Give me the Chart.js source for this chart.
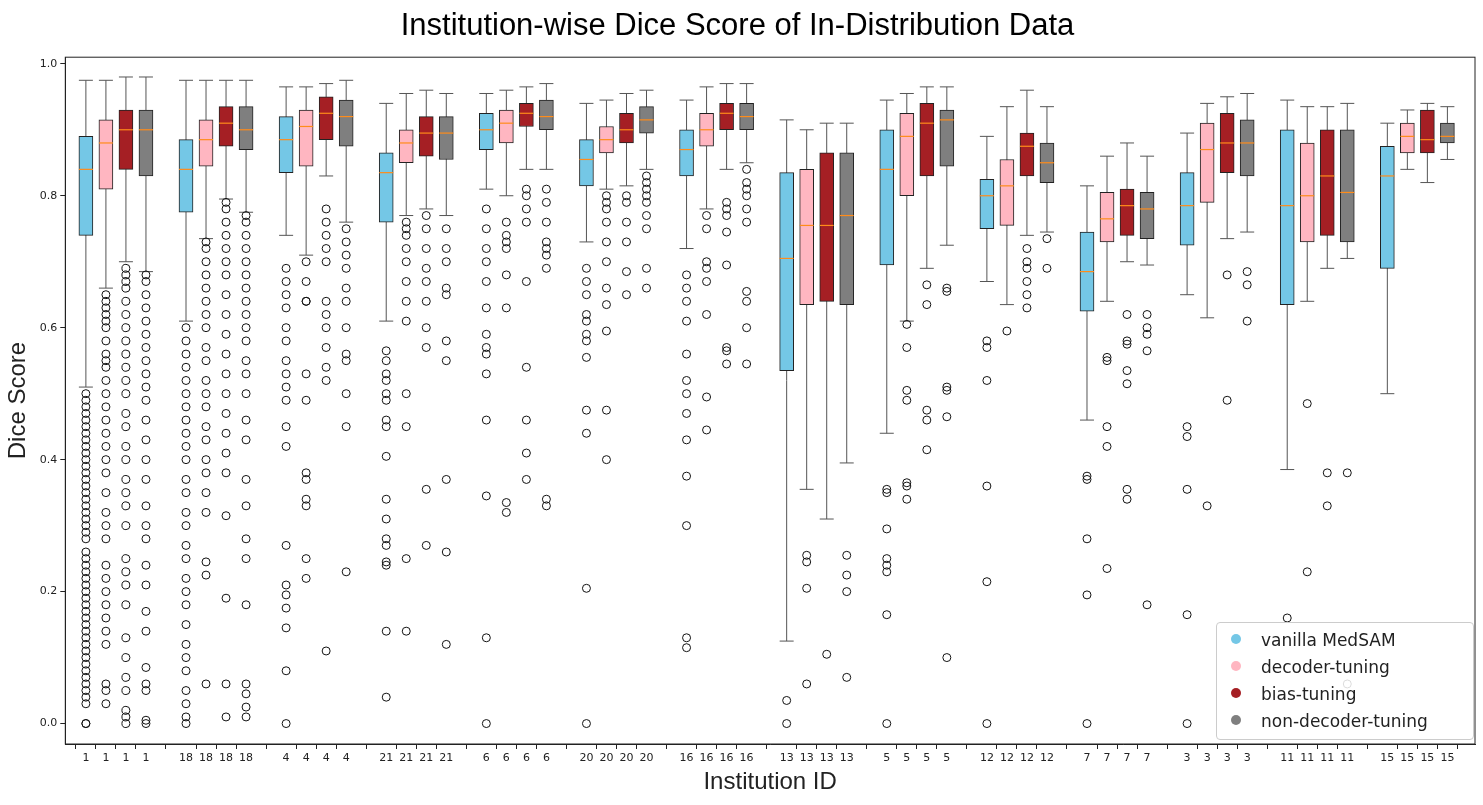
<!DOCTYPE html>
<html>
<head>
<meta charset="utf-8">
<script src="https://cdn.jsdelivr.net/npm/chart.js@4/dist/chart.umd.min.js"></script>
<style>
  body{margin:0;background:#fff;}
  #wrap{position:relative;width:1483px;height:805px;}
  #legend{position:absolute;left:1216px;top:622px;width:258px;height:118px;border:1px solid #ccc;border-radius:4px;background:rgba(255,255,255,0.85);
    font-family:"DejaVu Sans",sans-serif;font-size:17px;color:#222;padding:4px 0 0 0;box-sizing:border-box;}
  #legend div{height:27px;line-height:27px;padding-left:14px;}
  #legend span{display:inline-block;width:10px;height:10px;border-radius:50%;margin-right:20px;vertical-align:middle;position:relative;top:-2px;}
</style>
</head>
<body>
<div id="wrap">
<canvas id="chart" width="1483" height="805"></canvas>
<div id="legend"></div>
</div>
<script>
// DATA
const institutions = ["1","18","4","21","6","20","16","13","5","12","7","3","11","15"];
const methods = ["vanilla MedSAM","decoder-tuning","bias-tuning","non-decoder-tuning"];
const colors = ["#74c7e6","#ffb6c1","#a51f24","#7f7f7f"];

// [whisker low, q1, median, q3, whisker high]
const vanillaStats = [
  [0.51,0.74,0.84,0.89,0.975],[0.61,0.775,0.84,0.885,0.975],[0.74,0.835,0.885,0.92,0.965],
  [0.61,0.76,0.835,0.865,0.94],[0.81,0.87,0.9,0.925,0.955],[0.73,0.815,0.855,0.885,0.94],
  [0.72,0.83,0.87,0.9,0.945],[0.125,0.535,0.705,0.835,0.915],[0.44,0.695,0.84,0.9,0.945],
  [0.67,0.75,0.8,0.825,0.89],[0.46,0.625,0.685,0.745,0.815],[0.65,0.725,0.785,0.835,0.895],
  [0.385,0.635,0.785,0.9,0.945],[0.5,0.69,0.83,0.875,0.91]];
const decoderStats = [
  [0.66,0.81,0.88,0.915,0.975],[0.735,0.845,0.885,0.915,0.975],[0.71,0.845,0.905,0.93,0.965],
  [0.77,0.85,0.88,0.9,0.955],[0.8,0.88,0.91,0.93,0.96],[0.81,0.865,0.885,0.905,0.945],
  [0.78,0.875,0.9,0.925,0.965],[0.355,0.635,0.755,0.84,0.9],[0.61,0.8,0.89,0.925,0.955],
  [0.635,0.755,0.815,0.855,0.935],[0.64,0.73,0.765,0.805,0.86],[0.615,0.79,0.87,0.91,0.94],
  [0.64,0.73,0.8,0.88,0.935],[0.84,0.865,0.89,0.91,0.93]];
const biasStats = [
  [0.7,0.84,0.9,0.93,0.98],[0.795,0.875,0.91,0.935,0.975],[0.83,0.885,0.925,0.95,0.97],
  [0.78,0.86,0.895,0.92,0.96],[0.84,0.905,0.925,0.94,0.965],[0.815,0.88,0.9,0.925,0.955],
  [0.84,0.9,0.925,0.94,0.97],[0.31,0.64,0.755,0.865,0.91],[0.69,0.83,0.91,0.94,0.965],
  [0.74,0.83,0.875,0.895,0.96],[0.7,0.74,0.785,0.81,0.88],[0.735,0.835,0.88,0.925,0.95],
  [0.69,0.74,0.83,0.9,0.935],[0.82,0.865,0.885,0.93,0.94]];
const nonDecoderStats = [
  [0.685,0.83,0.9,0.93,0.98],[0.775,0.87,0.9,0.935,0.975],[0.76,0.875,0.92,0.945,0.975],
  [0.77,0.855,0.895,0.92,0.955],[0.84,0.9,0.92,0.945,0.97],[0.84,0.895,0.915,0.935,0.96],
  [0.85,0.9,0.92,0.94,0.97],[0.395,0.635,0.77,0.865,0.91],[0.725,0.845,0.915,0.93,0.965],
  [0.745,0.82,0.85,0.88,0.935],[0.695,0.735,0.78,0.805,0.86],[0.745,0.83,0.88,0.915,0.955],
  [0.705,0.73,0.805,0.9,0.94],[0.855,0.88,0.89,0.91,0.935]];

const vanillaOut = [
  [0,0,0.03,0.04,0.05,0.06,0.07,0.08,0.09,0.1,0.11,0.12,0.13,0.14,0.15,0.16,0.17,0.18,0.19,0.2,0.21,0.22,0.23,0.24,0.25,0.26,0.28,0.29,0.3,0.31,0.32,0.33,0.34,0.35,0.36,0.37,0.38,0.39,0.4,0.41,0.42,0.43,0.44,0.45,0.46,0.47,0.48,0.49,0.5],
  [0,0.01,0.03,0.05,0.08,0.1,0.12,0.15,0.18,0.2,0.22,0.25,0.27,0.3,0.32,0.35,0.37,0.4,0.42,0.44,0.46,0.48,0.5,0.52,0.54,0.56,0.58,0.6],
  [0,0.08,0.145,0.175,0.195,0.21,0.27,0.42,0.45,0.49,0.51,0.53,0.55,0.58,0.6,0.63,0.65,0.67,0.69],
  [0.04,0.14,0.24,0.245,0.27,0.28,0.31,0.34,0.405,0.45,0.46,0.49,0.5,0.52,0.53,0.55,0.565],
  [0,0.13,0.345,0.46,0.53,0.56,0.57,0.59,0.63,0.67,0.7,0.72,0.75,0.78],
  [0,0.205,0.44,0.475,0.555,0.58,0.59,0.61,0.62,0.65,0.67,0.69],
  [0.115,0.13,0.3,0.375,0.43,0.47,0.5,0.52,0.56,0.61,0.64,0.66,0.68],
  [0,0.035],
  [0,0.165,0.23,0.24,0.25,0.295,0.35,0.355],
  [0,0.215,0.36,0.52,0.57,0.58],
  [0,0.195,0.28,0.37,0.375],
  [0,0.165,0.355,0.435,0.45],
  [0.16],
  []];
const decoderOut = [
  [0.03,0.05,0.06,0.12,0.14,0.16,0.18,0.2,0.22,0.24,0.28,0.3,0.32,0.35,0.38,0.4,0.42,0.44,0.46,0.48,0.5,0.52,0.54,0.55,0.56,0.58,0.6,0.61,0.62,0.63,0.64,0.65],
  [0.06,0.225,0.245,0.32,0.35,0.38,0.4,0.43,0.45,0.48,0.5,0.52,0.55,0.57,0.6,0.62,0.64,0.66,0.68,0.7,0.72,0.73],
  [0.22,0.25,0.33,0.34,0.37,0.38,0.49,0.53,0.64,0.64,0.67,0.7],
  [0.14,0.25,0.45,0.5,0.61,0.64,0.67,0.7,0.72,0.74,0.75,0.76],
  [0.32,0.335,0.63,0.68,0.72,0.73,0.74,0.76],
  [0.4,0.475,0.595,0.635,0.66,0.7,0.73,0.76,0.78,0.79,0.8],
  [0.445,0.495,0.62,0.67,0.69,0.7,0.75,0.77],
  [0.06,0.205,0.245,0.255],
  [0.34,0.36,0.365,0.49,0.505,0.57,0.605],
  [0.595],
  [0.235,0.42,0.45,0.55,0.555],
  [0.33],
  [0.23,0.485],
  []];
const biasOut = [
  [0,0.01,0.02,0.05,0.07,0.1,0.13,0.18,0.21,0.23,0.25,0.3,0.33,0.35,0.37,0.4,0.42,0.45,0.47,0.5,0.52,0.54,0.56,0.58,0.6,0.62,0.64,0.66,0.67,0.68,0.69],
  [0.01,0.06,0.19,0.315,0.38,0.41,0.44,0.47,0.5,0.53,0.56,0.59,0.62,0.65,0.68,0.7,0.72,0.74,0.76,0.78,0.79],
  [0.11,0.52,0.54,0.57,0.6,0.62,0.64,0.7,0.72,0.74,0.76,0.78],
  [0.27,0.355,0.57,0.6,0.64,0.67,0.69,0.72,0.75,0.77],
  [0.37,0.41,0.46,0.54,0.67,0.76,0.78,0.8,0.81],
  [0.65,0.685,0.73,0.76,0.79,0.8],
  [0.545,0.565,0.57,0.695,0.745,0.77,0.78,0.79],
  [0.105],
  [0.415,0.46,0.475,0.635,0.665],
  [0.63,0.65,0.67,0.69,0.7,0.72],
  [0.34,0.355,0.515,0.535,0.575,0.58,0.62],
  [0.49,0.68],
  [0.33,0.38],
  []];
const nonDecoderOut = [
  [0,0.005,0.05,0.06,0.085,0.14,0.17,0.21,0.24,0.28,0.3,0.33,0.37,0.4,0.43,0.46,0.49,0.51,0.53,0.55,0.57,0.59,0.61,0.63,0.65,0.67,0.68],
  [0.01,0.025,0.045,0.06,0.18,0.25,0.28,0.33,0.37,0.43,0.46,0.5,0.53,0.55,0.58,0.6,0.62,0.64,0.66,0.68,0.7,0.72,0.74,0.76,0.77],
  [0.23,0.45,0.5,0.55,0.56,0.6,0.64,0.66,0.69,0.71,0.73,0.75],
  [0.12,0.26,0.37,0.55,0.58,0.65,0.66,0.7,0.72,0.75],
  [0.33,0.34,0.69,0.71,0.72,0.73,0.76,0.79,0.81],
  [0.66,0.69,0.75,0.77,0.79,0.8,0.81,0.82,0.83],
  [0.545,0.6,0.64,0.655,0.76,0.78,0.8,0.81,0.82,0.84],
  [0.07,0.2,0.225,0.255],
  [0.1,0.465,0.505,0.51,0.655,0.66],
  [0.69,0.735],
  [0.18,0.565,0.59,0.6,0.62],
  [0.61,0.665,0.685],
  [0.06,0.38],
  []];

const yTicks = [0,0.2,0.4,0.6,0.8,1.0];

// BUILD
const allStats = [vanillaStats,decoderStats,biasStats,nonDecoderStats];
const allOut = [vanillaOut,decoderOut,biasOut,nonDecoderOut];
const pos = (g,j) => g*5 + j + 1;

const datasets = [];
methods.forEach((m,j)=>{
  datasets.push({
    type:'bar', label:m,
    data: allStats[j].map((s,g)=>({x:pos(g,j), y:[s[1],s[3]]})),
    backgroundColor: colors[j], borderColor:'#222', borderWidth:1, borderSkipped:false,
    barThickness:14, grouped:false, order:1
  });
});
const outPts = [];
allOut.forEach((arr,j)=>arr.forEach((vals,g)=>vals.forEach(v=>outPts.push({x:pos(g,j),y:v}))));
datasets.push({
  type:'scatter', label:'outliers', data: outPts,
  pointRadius:4, pointBorderColor:'#111', pointBackgroundColor:'rgba(0,0,0,0)', pointBorderWidth:1, order:0
});

const boxPlugin = {
  id:'boxParts',
  beforeDatasetsDraw(chart){
    const {ctx, scales:{x,y}} = chart;
    ctx.save(); ctx.strokeStyle='#555'; ctx.lineWidth=1;
    allStats.forEach((st,j)=>st.forEach((s,g)=>{
      const px = x.getPixelForValue(pos(g,j));
      ctx.beginPath();
      ctx.moveTo(px,y.getPixelForValue(s[0])); ctx.lineTo(px,y.getPixelForValue(s[4]));
      [s[0],s[4]].forEach(v=>{ctx.moveTo(px-7,y.getPixelForValue(v)); ctx.lineTo(px+7,y.getPixelForValue(v));});
      ctx.stroke();
    }));
    ctx.restore();
  },
  afterDatasetsDraw(chart){
    const {ctx, chartArea:a, scales:{x,y}} = chart;
    ctx.save(); ctx.strokeStyle='#ff8c1a'; ctx.lineWidth=1.2;
    allStats.forEach((st,j)=>st.forEach((s,g)=>{
      const px = x.getPixelForValue(pos(g,j)), py = y.getPixelForValue(s[2]);
      ctx.beginPath(); ctx.moveTo(px-7,py); ctx.lineTo(px+7,py); ctx.stroke();
    }));
    ctx.strokeStyle='#222'; ctx.lineWidth=1;
    ctx.strokeRect(a.left,a.top,a.right-a.left,a.bottom-a.top);
    ctx.restore();
  }
};

new Chart(document.getElementById('chart'), {
  data:{datasets},
  options:{
    responsive:false, animation:false,
    layout:{padding:{left:0,right:8,top:0,bottom:4}},
    plugins:{
      legend:{display:false}, tooltip:{enabled:false},
      title:{display:true,text:'Institution-wise Dice Score of In-Distribution Data',
        font:{family:'Liberation Sans, Arial',size:31,weight:'normal'}, color:'#000', padding:{top:8,bottom:12}}
    },
    scales:{
      x:{type:'linear', min:0.6, max:69.75,
        afterBuildTicks(ax){ const t=[]; institutions.forEach((id,g)=>{for(let j=0;j<4;j++) t.push({value:pos(g,j)});}); ax.ticks=t; },
        ticks:{autoSkip:false, maxRotation:0, color:'#222', font:{family:'DejaVu Sans',size:11},
          callback:(v)=>institutions[Math.floor((v-1)/5)]},
        grid:{drawOnChartArea:false, tickLength:5, color:'#222'},
        border:{color:'#222'},
        title:{display:true,text:'Institution ID',font:{family:'Liberation Sans, Arial',size:24},color:'#222',padding:{top:0}}
      },
      y:{min:-0.031, max:1.01,
        afterBuildTicks(ax){ ax.ticks = yTicks.map(v=>({value:v})); },
        ticks:{color:'#222', font:{family:'DejaVu Sans',size:11}, callback:v=>v.toFixed(1)},
        grid:{drawOnChartArea:false, tickLength:5, color:'#222'},
        border:{color:'#222'},
        title:{display:true,text:'Dice Score',font:{family:'Liberation Sans, Arial',size:24},color:'#222'}
      }
    }
  },
  plugins:[boxPlugin]
});

// LEGEND
const lg = document.getElementById('legend');
methods.forEach((m,j)=>{
  const d=document.createElement('div');
  d.innerHTML='<span style="background:'+colors[j]+'"></span>'+m;
  lg.appendChild(d);
});
</script>
</body>
</html>
